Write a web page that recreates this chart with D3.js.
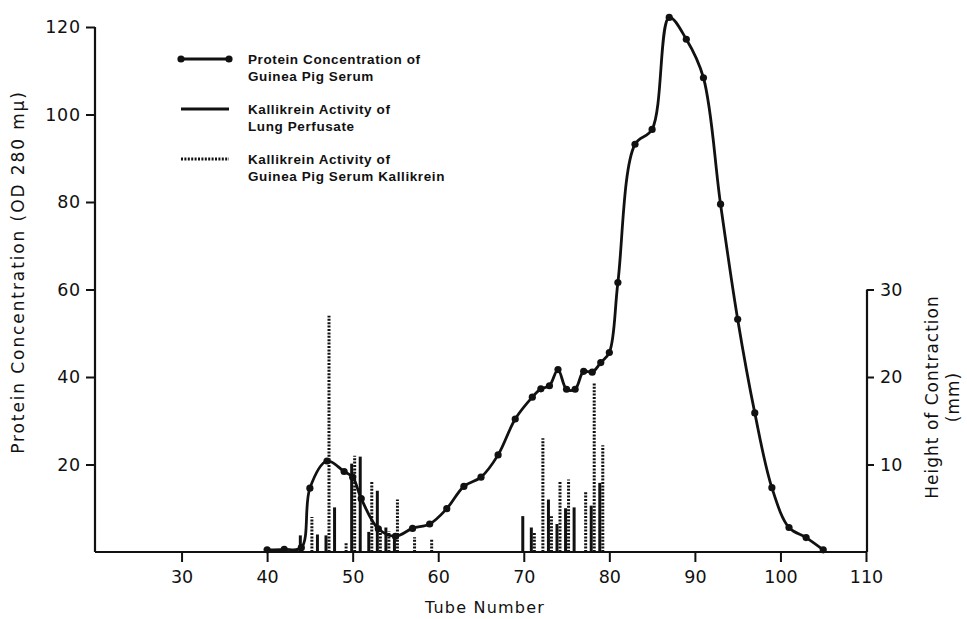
<!DOCTYPE html>
<html>
<head>
<meta charset="utf-8">
<script src="https://cdn.jsdelivr.net/npm/d3@7"></script>
<style>
  html, body { margin: 0; padding: 0; background: #fff; }
  svg { display: block; }
  text { fill: #111; }
</style>
</head>
<body>
<svg id="chart" width="967" height="619"></svg>
<script>
// ---------------- DATA ----------------
const proteinTubes  = [40, 42, 44, 45, 47, 49, 50, 51, 53, 55, 57, 59, 61, 63, 65, 67, 69, 71, 72, 73, 74, 75, 76, 77, 78, 79, 80, 81, 83, 85, 87, 89, 91, 93, 95, 97, 99, 101, 103, 105];
const proteinValues = [0.5, 0.6, 1.0, 14.6, 20.8, 18.4, 17.1, 12.2, 5.3, 3.6, 5.4, 6.4, 9.9, 15.0, 17.1, 22.2, 30.4, 35.4, 37.3, 38.0, 41.7, 37.2, 37.2, 41.3, 41.1, 43.3, 45.6, 61.6, 93.2, 96.6, 122.2, 117.2, 108.4, 79.5, 53.2, 31.8, 14.7, 5.6, 3.3, 0.5];

const lungTubes  = [44, 46, 47, 48, 50, 51, 52, 53, 54, 55, 70, 71, 73, 74, 75, 76, 78, 79];
const lungValues = [1.9, 2.0, 1.9, 5.1, 10.1, 10.9, 2.3, 7.0, 2.8, 2.1, 4.1, 2.8, 6.0, 3.2, 5.0, 5.1, 5.3, 7.9];

const serumTubes  = [45, 47, 49, 50, 52, 53, 54, 55, 57, 59, 71, 72, 73, 74, 75, 77, 78, 79];
const serumValues = [4.0, 27.0, 1.1, 11.0, 8.1, 2.7, 2.4, 6.0, 1.7, 1.4, 2.2, 13.0, 4.1, 8.1, 8.3, 7.0, 19.3, 12.2];

const xTicks      = [30, 40, 50, 60, 70, 80, 90, 100, 110];
const yLeftTicks  = [20, 40, 60, 80, 100, 120];
const yRightTicks = [10, 20, 30];

const legendLabels = [
  ["Protein Concentration of", "Guinea Pig Serum"],
  ["Kallikrein Activity of", "Lung Perfusate"],
  ["Kallikrein Activity of", "Guinea Pig Serum Kallikrein"]
];

const xTitle      = "Tube Number";
const yLeftTitle  = "Protein Concentration (OD 280 m\u03bc)";
const yRightTitle = ["Height of Contraction", "(mm)"];

// ---------------- LAYOUT ----------------
const svg = d3.select("#chart");
const ink = "#111";
const x  = d3.scaleLinear().domain([20, 110]).range([96, 866]);
const yL = d3.scaleLinear().domain([0, 120]).range([552, 27]);
const yR = d3.scaleLinear().domain([0, 30]).range([552, 289.5]);

const tickFont = "DejaVu Sans, sans-serif";

// X axis
const xAxis = svg.append("g")
  .attr("transform", `translate(0,${yL(0)})`)
  .call(d3.axisBottom(x).tickValues(xTicks).tickSize(10).tickPadding(9).tickSizeOuter(0));
xAxis.select(".domain").attr("d", `M${x(20) - 1},0H${x(110)}`);

// Left axis
const yAxisL = svg.append("g")
  .attr("transform", `translate(${x(20) - 1},0)`)
  .call(d3.axisLeft(yL).tickValues(yLeftTicks).tickSize(9).tickPadding(5).tickSizeOuter(0));
yAxisL.select(".domain").attr("d", `M0,${yL(0)}V${yL(120)}`);

// Right axis
const yAxisR = svg.append("g")
  .attr("transform", `translate(${x(110) + 1},0)`)
  .call(d3.axisRight(yR).tickValues(yRightTicks).tickSize(7).tickPadding(6).tickSizeOuter(0));
yAxisR.select(".domain").attr("d", `M0,${yR(0)}V${yR(30)}`);

[xAxis, yAxisL, yAxisR].forEach(g => {
  g.selectAll(".domain").attr("stroke", ink).attr("stroke-width", 2.2).attr("fill", "none");
  g.selectAll(".tick line").attr("stroke", ink).attr("stroke-width", 2);
  g.selectAll(".tick text").attr("font-family", tickFont).attr("font-size", 17.5).attr("fill", ink);
});
yAxisL.selectAll(".tick text").attr("letter-spacing", 0.8);

// Axis titles
svg.append("text")
  .attr("x", (x(20) + x(110)) / 2 + 4).attr("y", 613)
  .attr("text-anchor", "middle")
  .attr("font-family", tickFont).attr("font-size", 16).attr("letter-spacing", 1.2)
  .text(xTitle);

svg.append("text")
  .attr("transform", `translate(24,272) rotate(-90)`)
  .attr("text-anchor", "middle")
  .attr("font-family", tickFont).attr("font-size", 17).attr("letter-spacing", 1.9)
  .text(yLeftTitle);

yRightTitle.forEach((t, i) => {
  svg.append("text")
    .attr("transform", `translate(${938 + i * 21},397) rotate(-90)`)
    .attr("text-anchor", "middle")
    .attr("font-family", tickFont).attr("font-size", 17).attr("letter-spacing", 1)
    .text(t);
});

// ---------------- MARKS ----------------
const plot = svg.append("g");

// Lung perfusate bars (solid)
plot.selectAll("line.lung")
  .data(lungTubes.map((t, i) => ({ t, v: lungValues[i] })))
  .join("line")
  .attr("class", "lung")
  .attr("x1", d => x(d.t) - 1).attr("x2", d => x(d.t) - 1)
  .attr("y1", yR(0)).attr("y2", d => yR(d.v))
  .attr("stroke", ink).attr("stroke-width", 3);

// Serum kallikrein bars (dotted)
plot.selectAll("line.serum")
  .data(serumTubes.map((t, i) => ({ t, v: serumValues[i] })))
  .join("line")
  .attr("class", "serum")
  .attr("x1", d => x(d.t) + 2).attr("x2", d => x(d.t) + 2)
  .attr("y1", yR(0)).attr("y2", d => yR(d.v))
  .attr("stroke", ink).attr("stroke-width", 3)
  .attr("stroke-dasharray", "2,1.4");

// Protein curve
const pts = proteinTubes.map((t, i) => ({ t, v: proteinValues[i] }));
const line = d3.line().x(d => x(d.t)).y(d => yL(d.v)).curve(d3.curveCatmullRom.alpha(0.5));
plot.append("path")
  .datum(pts)
  .attr("d", line)
  .attr("fill", "none").attr("stroke", ink).attr("stroke-width", 2.8)
  .attr("stroke-linejoin", "round");

plot.selectAll("circle.pt")
  .data(pts)
  .join("circle")
  .attr("class", "pt")
  .attr("cx", d => x(d.t)).attr("cy", d => yL(d.v))
  .attr("r", 3.6).attr("fill", ink);

// ---------------- LEGEND ----------------
const lg = svg.append("g").attr("transform", "translate(181,0)");
const rowY = [59, 109, 159];
const symW = 48;

// row 1: line with dots
lg.append("line").attr("x1", 0).attr("x2", symW).attr("y1", rowY[0]).attr("y2", rowY[0])
  .attr("stroke", ink).attr("stroke-width", 2.8);
lg.selectAll("circle.lgpt").data([0, symW]).join("circle")
  .attr("class", "lgpt")
  .attr("cx", d => d).attr("cy", rowY[0]).attr("r", 3.6).attr("fill", ink);
// row 2: solid
lg.append("line").attr("x1", 0).attr("x2", symW).attr("y1", rowY[1]).attr("y2", rowY[1])
  .attr("stroke", ink).attr("stroke-width", 3);
// row 3: dotted
lg.append("line").attr("x1", 0).attr("x2", symW).attr("y1", rowY[2]).attr("y2", rowY[2])
  .attr("stroke", ink).attr("stroke-width", 3).attr("stroke-dasharray", "2,1.4");

legendLabels.forEach((lines, i) => {
  lines.forEach((t, j) => {
    lg.append("text")
      .attr("x", 67).attr("y", rowY[i] + 5 + j * 16.5)
      .attr("font-family", "Liberation Sans, Arial, sans-serif")
      .attr("font-weight", "bold").attr("font-size", 13.5).attr("letter-spacing", 0.6)
      .text(t);
  });
});
</script>
</body>
</html>
